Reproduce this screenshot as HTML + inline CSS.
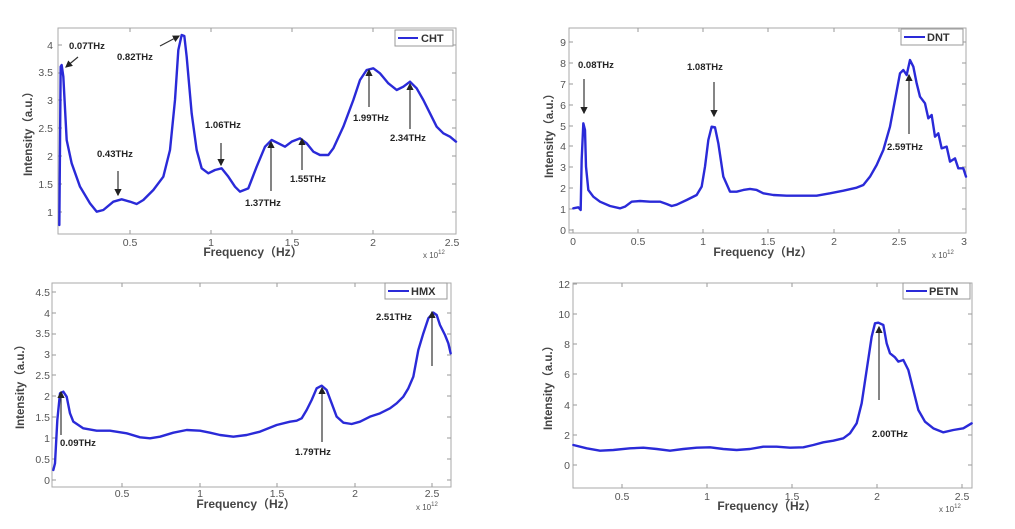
<!DOCTYPE html>
<html><head><meta charset="utf-8"><style>
html,body{margin:0;padding:0;background:#fff;}
svg{display:block;}
.t{font-family:"Liberation Sans",sans-serif;font-size:10.5px;fill:#555;}
.a{font-family:"Liberation Sans",sans-serif;font-size:9.5px;font-weight:bold;fill:#222;}
.x{font-family:"Liberation Sans","Noto Sans CJK SC",sans-serif;font-size:12px;font-weight:bold;fill:#444;}
.y{font-family:"Liberation Sans","Noto Sans CJK SC",sans-serif;font-size:11.5px;font-weight:bold;fill:#444;}
.l{font-family:"Liberation Sans",sans-serif;font-size:11px;font-weight:bold;fill:#333;}
.s{font-family:"Liberation Sans",sans-serif;font-size:8px;fill:#555;}
.c{fill:none;stroke:#2a2ad8;stroke-width:2.4;stroke-linejoin:round;stroke-linecap:round;vector-effect:non-scaling-stroke;}
.f{fill:none;stroke:#aaa;stroke-width:1;}
.k{fill:none;stroke:#999;stroke-width:1;}
.ar{stroke:#333;stroke-width:1.2;}
</style></head><body>
<svg width="1015" height="529" viewBox="0 0 1015 529" xmlns="http://www.w3.org/2000/svg">
<defs><marker id="m" markerWidth="6" markerHeight="6" refX="5" refY="3" orient="auto"><path d="M0,0 L6,3 L0,6 z" fill="#222"/></marker></defs>

<!-- Panel 1 CHT -->
<rect class="f" x="58" y="28" width="398" height="206"/>
<path class="k" d="M130,234v-4M211,234v-4M292,234v-4M373,234v-4M130,28v4M211,28v4M292,28v4M373,28v4M58,212h4M58,184h4M58,156h4M58,128h4M58,100h4M58,73h4M58,45h4M456,212h-4M456,184h-4M456,156h-4M456,128h-4M456,100h-4M456,73h-4M456,45h-4"/>
<g class="t" text-anchor="end">
<text x="53" y="216">1</text><text x="53" y="188">1.5</text><text x="53" y="160">2</text><text x="53" y="132">2.5</text><text x="53" y="104">3</text><text x="53" y="76">3.5</text><text x="53" y="49">4</text></g>
<g class="t" text-anchor="middle"><text x="130" y="246">0.5</text><text x="211" y="246">1</text><text x="292" y="246">1.5</text><text x="373" y="246">2</text><text x="452" y="246">2.5</text></g>
<text class="x" x="253" y="256" text-anchor="middle">Frequency（Hz）</text>
<text class="s" x="423" y="258">x 10<tspan dy="-4" font-size="6">12</tspan></text>
<text class="y" transform="translate(32,131) rotate(-90)" text-anchor="middle">Intensity（a.u.）</text>
<g transform="scale(0.33333)"><path class="c" d="M178,675 L182,200 L185,195 L190,230 L200,420 L215,490 L240,560 L270,610 L290,635 L310,630 L340,605 L365,598 L390,605 L410,612 L430,600 L460,570 L490,530 L510,450 L525,300 L535,150 L545,105 L553,108 L560,170 L575,340 L590,450 L605,505 L625,520 L645,510 L665,505 L685,530 L705,560 L720,575 L745,565 L770,500 L795,440 L815,420 L835,430 L855,440 L875,425 L900,415 L920,430 L940,455 L960,465 L985,465 L1000,445 L1030,380 L1060,300 L1080,240 L1100,210 L1120,205 L1140,220 L1165,250 L1190,270 L1210,260 L1230,245 L1250,265 L1270,300 L1290,340 L1310,380 L1330,400 L1350,410 L1368,425"/></g>
<rect x="395" y="30" width="58" height="16" fill="#fff" stroke="#999"/><line x1="398" y1="38" x2="418" y2="38" stroke="#2a2ad8" stroke-width="2"/><text class="l" x="421" y="42">CHT</text>
<text class="a" x="69" y="49">0.07THz</text><line class="ar" x1="78" y1="57" x2="66" y2="67" marker-end="url(#m)"/>
<text class="a" x="117" y="60">0.82THz</text><line class="ar" x1="160" y1="46" x2="179" y2="36" marker-end="url(#m)"/>
<text class="a" x="97" y="157">0.43THz</text><line class="ar" x1="118" y1="171" x2="118" y2="195" marker-end="url(#m)"/>
<text class="a" x="205" y="128">1.06THz</text><line class="ar" x1="221" y1="143" x2="221" y2="165" marker-end="url(#m)"/>
<text class="a" x="245" y="206">1.37THz</text><line class="ar" x1="271" y1="191" x2="271" y2="142" marker-end="url(#m)"/>
<text class="a" x="290" y="182">1.55THz</text><line class="ar" x1="302" y1="170" x2="302" y2="139" marker-end="url(#m)"/>
<text class="a" x="353" y="121">1.99THz</text><line class="ar" x1="369" y1="107" x2="369" y2="70" marker-end="url(#m)"/>
<text class="a" x="390" y="141">2.34THz</text><line class="ar" x1="410" y1="129" x2="410" y2="84" marker-end="url(#m)"/>

<!-- Panel 2 DNT -->
<rect class="f" x="569" y="28" width="397" height="205"/>
<path class="k" d="M573,233v-4M638,233v-4M703,233v-4M768,233v-4M834,233v-4M899,233v-4M638,28v4M703,28v4M768,28v4M834,28v4M899,28v4M569,230h4M569,209h4M569,188h4M569,167h4M569,146h4M569,126h4M569,105h4M569,84h4M569,63h4M569,42h4M966,209h-4M966,188h-4M966,167h-4M966,146h-4M966,126h-4M966,105h-4M966,84h-4M966,63h-4M966,42h-4"/>
<g class="t" text-anchor="end">
<text x="566" y="234">0</text><text x="566" y="213">1</text><text x="566" y="192">2</text><text x="566" y="171">3</text><text x="566" y="150">4</text><text x="566" y="130">5</text><text x="566" y="109">6</text><text x="566" y="88">7</text><text x="566" y="67">8</text><text x="566" y="46">9</text></g>
<g class="t" text-anchor="middle"><text x="573" y="245">0</text><text x="638" y="245">0.5</text><text x="703" y="245">1</text><text x="768" y="245">1.5</text><text x="834" y="245">2</text><text x="899" y="245">2.5</text><text x="964" y="245">3</text></g>
<text class="x" x="763" y="256" text-anchor="middle">Frequency（Hz）</text>
<text class="s" x="932" y="258">x 10<tspan dy="-4" font-size="6">12</tspan></text>
<text class="y" transform="translate(553,133) rotate(-90)" text-anchor="middle">Intensity（a.u.）</text>
<g transform="translate(510,0) scale(0.33333)"><path class="c" d="M190,625 L205,622 L212,630 L215,480 L220,370 L225,390 L228,500 L235,570 L250,590 L270,605 L300,618 L330,625 L345,620 L365,605 L390,603 L420,605 L450,605 L470,612 L485,618 L500,614 L530,600 L560,585 L575,560 L585,500 L595,420 L605,380 L615,382 L625,430 L640,530 L660,575 L680,575 L700,570 L720,567 L740,570 L760,580 L790,585 L830,587 L870,587 L920,587 L960,580 L1000,572 L1040,563 L1060,555 L1080,530 L1100,495 L1120,450 L1140,380 L1155,300 L1170,220 L1180,210 L1190,225 L1200,180 L1210,200 L1220,250 L1230,290 L1245,310 L1255,355 L1265,345 L1275,410 L1285,400 L1295,445 L1310,440 L1320,485 L1335,475 L1345,505 L1360,505 L1368,530"/></g>
<rect x="901" y="29" width="62" height="16" fill="#fff" stroke="#999"/><line x1="904" y1="37" x2="925" y2="37" stroke="#2a2ad8" stroke-width="2"/><text class="l" x="927" y="41">DNT</text>
<text class="a" x="578" y="68">0.08THz</text><line class="ar" x1="584" y1="79" x2="584" y2="113" marker-end="url(#m)"/>
<text class="a" x="687" y="70">1.08THz</text><line class="ar" x1="714" y1="82" x2="714" y2="116" marker-end="url(#m)"/>
<text class="a" x="887" y="150">2.59THz</text><line class="ar" x1="909" y1="134" x2="909" y2="75" marker-end="url(#m)"/>

<!-- Panel 3 HMX -->
<rect class="f" x="52" y="283" width="399" height="204"/>
<path class="k" d="M122,487v-4M200,487v-4M277,487v-4M355,487v-4M432,487v-4M122,283v4M200,283v4M277,283v4M355,283v4M52,480h4M52,459h4M52,438h4M52,417h4M52,396h4M52,375h4M52,355h4M52,334h4M52,313h4M52,292h4M451,480h-4M451,459h-4M451,438h-4M451,417h-4M451,396h-4M451,375h-4M451,355h-4M451,334h-4M451,313h-4"/>
<g class="t" text-anchor="end">
<text x="50" y="484">0</text><text x="50" y="463">0.5</text><text x="50" y="442">1</text><text x="50" y="421">1.5</text><text x="50" y="400">2</text><text x="50" y="379">2.5</text><text x="50" y="358">3</text><text x="50" y="337">3.5</text><text x="50" y="317">4</text><text x="50" y="296">4.5</text></g>
<g class="t" text-anchor="middle"><text x="122" y="497">0.5</text><text x="200" y="497">1</text><text x="277" y="497">1.5</text><text x="355" y="497">2</text><text x="432" y="497">2.5</text></g>
<text class="x" x="246" y="508" text-anchor="middle">Frequency（Hz）</text>
<text class="s" x="416" y="510">x 10<tspan dy="-4" font-size="6">12</tspan></text>
<text class="y" transform="translate(24,384) rotate(-90)" text-anchor="middle">Intensity（a.u.）</text>
<g transform="translate(0,270) scale(0.33333)"><path class="c" d="M160,600 L165,580 L172,450 L180,370 L190,365 L200,380 L210,430 L220,455 L250,475 L290,482 L330,482 L380,490 L420,502 L450,505 L480,500 L520,488 L560,480 L600,482 L630,488 L660,495 L700,500 L740,495 L780,485 L830,465 L870,455 L890,452 L905,445 L920,420 L935,390 L950,355 L965,347 L980,360 L995,400 L1010,440 L1030,458 L1055,462 L1080,455 L1110,440 L1140,430 L1170,415 L1190,400 L1210,380 L1225,355 L1240,320 L1255,240 L1270,190 L1285,145 L1300,128 L1310,135 L1320,165 L1335,195 L1345,220 L1352,250"/></g>
<rect x="385" y="283" width="62" height="16" fill="#fff" stroke="#999"/><line x1="388" y1="291" x2="409" y2="291" stroke="#2a2ad8" stroke-width="2"/><text class="l" x="411" y="295">HMX</text>
<text class="a" x="376" y="320">2.51THz</text><line class="ar" x1="432" y1="366" x2="432" y2="312" marker-end="url(#m)"/>
<text class="a" x="60" y="446">0.09THz</text><line class="ar" x1="61" y1="435" x2="61" y2="392" marker-end="url(#m)"/>
<text class="a" x="295" y="455">1.79THz</text><line class="ar" x1="322" y1="442" x2="322" y2="388" marker-end="url(#m)"/>

<!-- Panel 4 PETN -->
<rect class="f" x="573" y="283" width="399" height="205"/>
<path class="k" d="M622,488v-4M707,488v-4M792,488v-4M877,488v-4M962,488v-4M622,283v4M707,283v4M792,283v4M877,283v4M573,465h4M573,435h4M573,405h4M573,374h4M573,344h4M573,314h4M573,284h4M972,465h-4M972,435h-4M972,405h-4M972,374h-4M972,344h-4M972,314h-4"/>
<g class="t" text-anchor="end">
<text x="570" y="469">0</text><text x="570" y="439">2</text><text x="570" y="409">4</text><text x="570" y="378">6</text><text x="570" y="348">8</text><text x="570" y="318">10</text><text x="570" y="288">12</text></g>
<g class="t" text-anchor="middle"><text x="622" y="500">0.5</text><text x="707" y="500">1</text><text x="792" y="500">1.5</text><text x="877" y="500">2</text><text x="962" y="500">2.5</text></g>
<text class="x" x="767" y="510" text-anchor="middle">Frequency（Hz）</text>
<text class="s" x="939" y="512">x 10<tspan dy="-4" font-size="6">12</tspan></text>
<text class="y" transform="translate(552,385) rotate(-90)" text-anchor="middle">Intensity（a.u.）</text>
<g transform="translate(510,270) scale(0.33333)"><path class="c" d="M190,525 L230,535 L270,542 L310,540 L360,535 L400,533 L440,537 L480,542 L520,537 L560,533 L600,532 L640,537 L680,540 L720,537 L760,530 L800,530 L840,533 L880,532 L910,525 L940,517 L970,512 L1000,505 L1020,490 L1040,460 L1055,400 L1070,300 L1085,200 L1095,160 L1105,158 L1120,165 L1130,220 L1140,250 L1155,262 L1165,275 L1180,270 L1195,300 L1210,360 L1225,420 L1245,455 L1270,475 L1300,487 L1330,480 L1360,475 L1385,460"/></g>
<rect x="903" y="283" width="67" height="16" fill="#fff" stroke="#999"/><line x1="906" y1="291" x2="927" y2="291" stroke="#2a2ad8" stroke-width="2"/><text class="l" x="929" y="295">PETN</text>
<text class="a" x="872" y="437">2.00THz</text><line class="ar" x1="879" y1="400" x2="879" y2="327" marker-end="url(#m)"/>
</svg>
</body></html>
